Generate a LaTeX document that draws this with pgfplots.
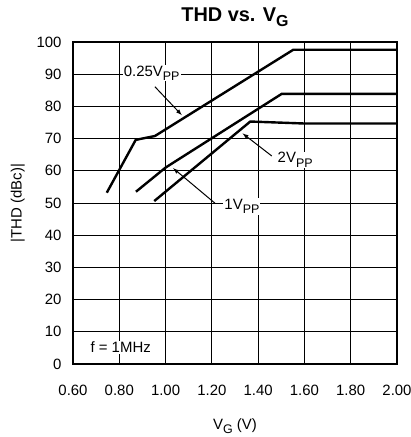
\documentclass[border=0pt]{standalone}
\usepackage{pgfplots}
\pgfplotsset{compat=1.18}
\usepackage{fontspec}
\setmainfont{Liberation Sans}
\newcommand{\sub}[1]{\raisebox{-0.28em}{\fontsize{12.5}{14}\selectfont #1}}
\newcommand{\subT}[1]{\raisebox{-0.25em}{\fontsize{16}{18}\selectfont\bfseries #1}}
\begin{document}
\begin{tikzpicture}
\useasboundingbox (-73bp,-73bp) rectangle (338bp,364bp);
\begin{axis}[
  scale only axis,
  width=324bp, height=322bp,
  xmin=0.6, xmax=2.0, ymin=0, ymax=100,
  xtick={0.6,0.8,1.0,1.2,1.4,1.6,1.8,2.0},
  ytick={0,10,...,100},
  xticklabel style={/pgf/number format/fixed, /pgf/number format/fixed zerofill, /pgf/number format/precision=2, yshift=-18bp},
  /pgf/number format/assume math mode=true,
  ticklabel style={font=\fontsize{15}{17}\selectfont},
  major tick length=0pt,
  grid=major,
  major grid style={black, line width=0.8bp},
  axis line style={line width=1.4bp},
  xtick pos=bottom, ytick pos=left,
  yticklabel style={xshift=-8bp},
  title={\textbf{THD vs. V\subT{G}}},
  title style={font=\fontsize{20}{22}\selectfont, yshift=6bp},
  xlabel={V\sub{G} (V)},
  ylabel={|THD (dBc)|},
  label style={font=\fontsize{15}{17}\selectfont},
  xlabel style={yshift=-16bp},
  ylabel style={yshift=5bp},
  clip=false,
]
% 0.25 Vpp
\addplot[black, line width=2.4bp] coordinates {
 (0.746,53.2) (0.871,69.6) (0.954,70.8) (1.552,97.6) (2.0,97.6)};
% 1 Vpp
\addplot[black, line width=2.4bp] coordinates {
 (0.872,53.5) (1.000,61.0) (1.502,83.9) (2.0,83.9)};
% 2 Vpp
\addplot[black, line width=2.4bp] coordinates {
 (0.951,50.6) (1.366,75.3) (1.595,74.7) (2.0,74.7)};
% labels
\node[fill=white, inner sep=1bp, font=\fontsize{15}{17}\selectfont] at (axis cs:0.94,90.4) {0.25V\sub{PP}};
\draw[-latex, line width=1bp] (axis cs:0.954,86.1) -- (axis cs:1.070,77.3);
\node[fill=white, inner sep=1bp, font=\fontsize{15}{17}\selectfont] at (axis cs:1.56,63.4) {2V\sub{PP}};
\draw[-latex, line width=1bp] (axis cs:1.459,64.6) -- (axis cs:1.333,71.6);
\node[fill=white, inner sep=1bp, font=\fontsize{15}{17}\selectfont] at (axis cs:1.33,48.9) {1V\sub{PP}};
\draw[-latex, line width=1bp] (axis cs:1.214,49.9) -- (axis cs:1.033,60.8);
\node[fill=white, inner sep=1bp, font=\fontsize{15}{17}\selectfont] at (axis cs:0.806,5.2) {f = 1MHz};
\end{axis}
\end{tikzpicture}
\end{document}
